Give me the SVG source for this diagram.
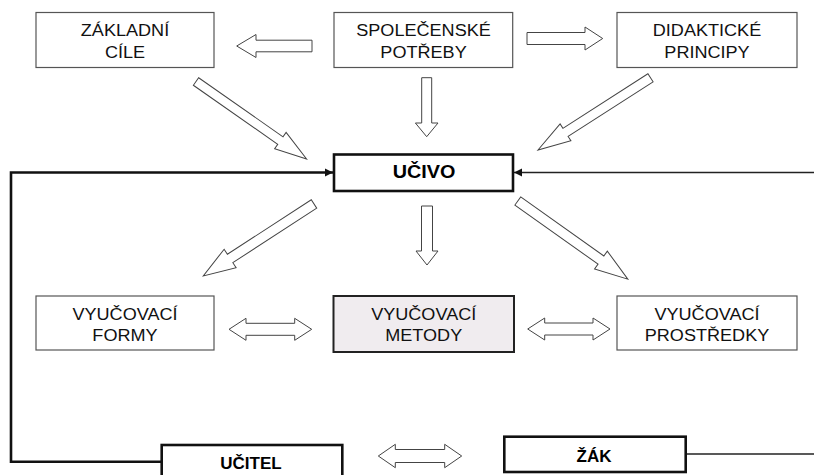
<svg xmlns="http://www.w3.org/2000/svg" width="814" height="475" viewBox="0 0 814 475">
<style>
.box{fill:#fff;stroke:#555;stroke-width:1.2}
.thick{fill:#fff;stroke:#111;stroke-width:2.6}
.t{font-family:"Liberation Sans",Arial,sans-serif;font-size:16px;fill:#111;text-anchor:middle}
.b{font-family:"Liberation Sans",Arial,sans-serif;font-size:17px;font-weight:bold;fill:#000;text-anchor:middle}
.ha{fill:#fff;stroke:#444;stroke-width:1}
.fb{fill:none;stroke:#111;stroke-width:2.6}
.fs{fill:none;stroke:#222;stroke-width:1.5}
</style>
<defs>
<marker id="ah" markerUnits="userSpaceOnUse" markerWidth="9" markerHeight="9" refX="8" refY="4.5" orient="auto">
<path d="M0,0.5 L8,4.5 L0,8.5 Z" fill="#111"/>
</marker>
</defs>
<rect width="814" height="475" fill="#fff"/>
<g id="connectors">
<polyline class="fb" points="161.7,461.7 11,461.7 11,172.5 333,172.5" marker-end="url(#ah)"/>
<line class="fs" x1="814" y1="172.5" x2="514" y2="172.5" marker-end="url(#ah)"/>
<line class="fs" x1="685.7" y1="454" x2="814" y2="454"/>
<polygon class="ha" transform="translate(312 46) rotate(180)" points="0,-5.8 56,-5.8 56,-11.5 75.3,0 56,11.5 56,5.8 0,5.8"/>
<polygon class="ha" transform="translate(527 38.5)" points="0,-6 58,-6 58,-11.5 75.7,0 58,11.5 58,6 0,6"/>
<polygon class="ha" transform="translate(426.7 77.7) rotate(90)" points="0,-5 45.3,-5 45.3,-11.3 59,0 45.3,11.3 45.3,5 0,5"/>
<polygon class="ha" transform="translate(427 206) rotate(90)" points="0,-5.5 45,-5.5 45,-11 59,0 45,11 45,5.5 0,5.5"/>
<polygon class="ha" transform="translate(196 81.5) rotate(35)" points="0,-4.6 103,-4.6 103,-10 135,0 103,10 103,4.6 0,4.6"/>
<polygon class="ha" transform="translate(650.5 77.8) rotate(147.3)" points="0,-4.8 101,-4.8 101,-10 133.7,0 101,10 101,4.8 0,4.8"/>
<polygon class="ha" transform="translate(314 204) rotate(147)" points="0,-5 100,-5 100,-11 132,0 100,11 100,5 0,5"/>
<polygon class="ha" transform="translate(517.8 201) rotate(35.4)" points="0,-5 102,-5 102,-11 135,0 102,11 102,5 0,5"/>
<polygon class="ha" transform="translate(229 329.3)" points="0,0 17,-11 17,-6 65.7,-6 65.7,-11 82.7,0 65.7,11 65.7,6 17,6 17,11"/>
<polygon class="ha" transform="translate(527.7 329)" points="0,0 17,-11 17,-6 65.3,-6 65.3,-11 82.3,0 65.3,11 65.3,6 17,6 17,11"/>
<polygon class="ha" transform="translate(378.3 456)" points="0,0 17,-11.7 17,-6.5 66.4,-6.5 66.4,-11.7 83.4,0 66.4,11.7 66.4,6.5 17,6.5 17,11.7"/>
</g>
<g id="zakladni-cile">
<rect class="box" x="36" y="12.5" width="178" height="55"/>
<text class="t" transform="translate(125 36) scale(1.13 1)">ZÁKLADNÍ</text>
<text class="t" transform="translate(125 58) scale(1.13 1)">CÍLE</text>
</g>
<g id="spolecenske-potreby">
<rect class="box" x="334" y="12.5" width="178.7" height="55"/>
<text class="t" transform="translate(423.5 36) scale(1.13 1)">SPOLEČENSKÉ</text>
<text class="t" transform="translate(423.5 58) scale(1.13 1)">POTŘEBY</text>
</g>
<g id="didakticke-principy">
<rect class="box" x="617" y="12.5" width="180" height="55"/>
<text class="t" transform="translate(707 36) scale(1.13 1)">DIDAKTICKÉ</text>
<text class="t" transform="translate(707 58) scale(1.13 1)">PRINCIPY</text>
</g>
<g id="ucivo">
<rect class="thick" x="334" y="154.5" width="179" height="36.5"/>
<text class="b" style="font-size:18px" transform="translate(424 178.3) scale(1.1 1)">UČIVO</text>
</g>
<g id="vyucovaci-formy">
<rect class="box" x="36" y="296" width="178" height="54"/>
<text class="t" transform="translate(125 320) scale(1.13 1)">VYUČOVACÍ</text>
<text class="t" transform="translate(125 341) scale(1.13 1)">FORMY</text>
</g>
<g id="vyucovaci-metody">
<rect x="333.5" y="296" width="180.5" height="56" fill="#f0ecef" stroke="#222" stroke-width="2"/>
<text class="t" transform="translate(423.7 320) scale(1.13 1)">VYUČOVACÍ</text>
<text class="t" transform="translate(423.7 341) scale(1.13 1)">METODY</text>
</g>
<g id="vyucovaci-prostredky">
<rect class="box" x="617" y="296" width="180" height="54"/>
<text class="t" transform="translate(707 320) scale(1.13 1)">VYUČOVACÍ</text>
<text class="t" transform="translate(707 341) scale(1.13 1)">PROSTŘEDKY</text>
</g>
<g id="ucitel">
<rect class="thick" x="161.7" y="445" width="180.6" height="40"/>
<text class="b" x="251" y="469">UČITEL</text>
</g>
<g id="zak">
<rect class="thick" x="504.3" y="436.7" width="181.4" height="35.3"/>
<text class="b" x="594" y="461.7">ŽÁK</text>
</g>
</svg>
